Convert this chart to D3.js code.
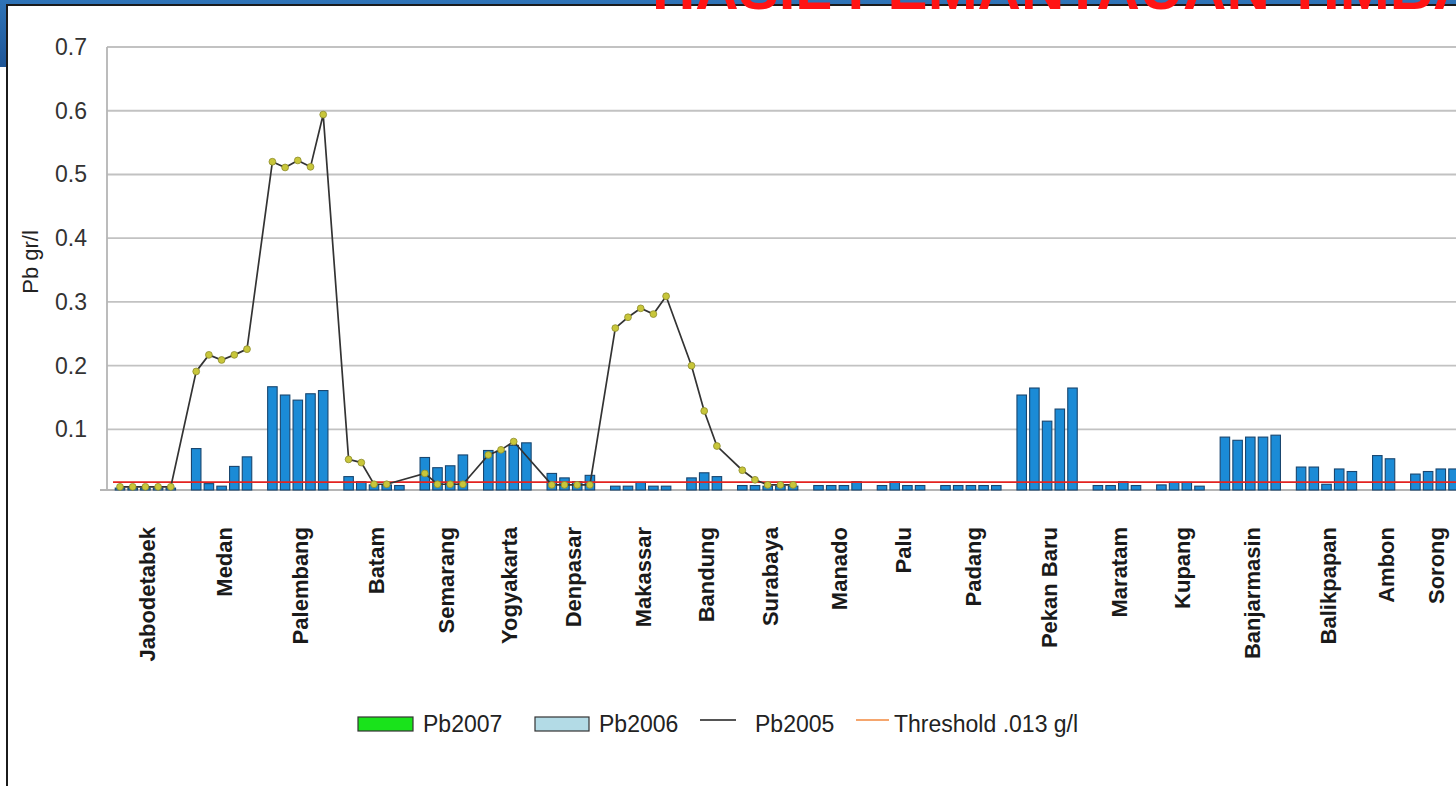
<!DOCTYPE html>
<html>
<head>
<meta charset="utf-8">
<script src="https://cdn.jsdelivr.net/npm/d3@7/dist/d3.min.js"></script>
<style>
  html, body { margin: 0; padding: 0; background: #ffffff; overflow: hidden; }
  svg { display: block; }
</style>
</head>
<body>
<svg id="chart" width="1456" height="786"></svg>
<script>
// ---------------- DATA ----------------
const cities = ["Jabodetabek", "Medan", "Palembang", "Batam", "Semarang", "Yogyakarta",
  "Denpasar", "Makassar", "Bandung", "Surabaya", "Manado", "Palu", "Padang",
  "Pekan Baru", "Maratam", "Kupang", "Banjarmasin", "Balikpapan", "Ambon", "Sorong"];

// Pb2006 samples per city (bars)
const pb2006 = [
  [0.008, 0.008, 0.008, 0.008, 0.008],
  [0.070, 0.015, 0.011, 0.042, 0.057],
  [0.167, 0.154, 0.146, 0.156, 0.161],
  [0.026, 0.018, 0.013, 0.013, 0.012],
  [0.056, 0.040, 0.043, 0.060],
  [0.067, 0.066, 0.075, 0.079],
  [0.031, 0.024, 0.018, 0.028],
  [0.011, 0.011, 0.017, 0.011, 0.011],
  [0.024, 0.032, 0.026],
  [0.012, 0.012, 0.011, 0.011, 0.011],
  [0.012, 0.012, 0.012, 0.018],
  [0.012, 0.018, 0.012, 0.012],
  [0.012, 0.012, 0.012, 0.012, 0.012],
  [0.154, 0.165, 0.113, 0.132, 0.165],
  [0.012, 0.012, 0.018, 0.012],
  [0.013, 0.017, 0.017, 0.011],
  [0.088, 0.083, 0.088, 0.088, 0.091],
  [0.041, 0.041, 0.014, 0.038, 0.034],
  [0.059, 0.054],
  [0.030, 0.034, 0.038, 0.038]
];

// Pb2005 samples per city (line); null = no sample
const pb2005 = [
  [0.010, 0.010, 0.010, 0.010, 0.010],
  [0.191, 0.217, 0.209, 0.217, 0.226],
  [0.520, 0.511, 0.522, 0.512, 0.594],
  [0.053, 0.048, 0.014, 0.014, null],
  [0.031, 0.014, 0.014, 0.014],
  [0.060, 0.068, 0.081, null],
  [0.013, 0.013, 0.013, 0.013],
  [0.259, 0.276, 0.290, 0.281, 0.309],
  [0.200, 0.129, 0.074],
  [0.036, 0.021, 0.013, 0.013, 0.013],
  [], [], [], [], [], [], [], [], [], []
];

const thresholdValue = 0.0175;
const yTicks = [0.1, 0.2, 0.3, 0.4, 0.5, 0.6, 0.7];
const legendItems = ["Pb2007", "Pb2006", "Pb2005", "Threshold .013 g/l"];
const titleText = "HASIL PEMANTAUAN TIMBAL";

// ---------------- BUILD SLOTS ----------------
const slots = [];       // each sample gets a slot, one empty slot between cities
const groupCenters = [];
let idx = 0;
cities.forEach((c, ci) => {
  const n = pb2006[ci].length;
  const start = idx;
  for (let k = 0; k < n; k++) {
    slots.push({ slot: idx, city: c, v2006: pb2006[ci][k],
      v2005: (pb2005[ci][k] === undefined ? null : pb2005[ci][k]) });
    idx++;
  }
  groupCenters.push({ city: c, pos: (start + idx - 1) / 2 });
  idx++; // gap slot
});
const nSlots = idx;

// ---------------- LAYOUT ----------------
const svg = d3.select("#chart");
const W = 1456, H = 786;
const plotLeft = 107, plotTop = 47, plotBottom = 490;
const step = 12.7;
const firstCenter = 120;

const x = d3.scaleLinear().domain([0, 1]).range([firstCenter, firstCenter + step]);
const y = d3.scaleLinear().domain([0.005, 0.7]).range([plotBottom, plotTop]);

// ---------------- FRAME ----------------
const grad = svg.append("defs").append("linearGradient").attr("id", "hdr")
  .attr("x1", 0).attr("y1", 0).attr("x2", 0).attr("y2", 1);
grad.append("stop").attr("offset", "0%").attr("stop-color", "#2f74b8");
grad.append("stop").attr("offset", "100%").attr("stop-color", "#1e5596");
svg.append("rect").attr("x", 0).attr("y", 0).attr("width", W).attr("height", 67).attr("fill", "url(#hdr)");
svg.append("rect").attr("x", 7).attr("y", 5).attr("width", W + 20).attr("height", H + 20)
  .attr("fill", "#ffffff").attr("stroke", "#1b1b1b").attr("stroke-width", 2);

const FONT = "'Liberation Sans', Arial, Helvetica, sans-serif";

// ---------------- GRID & AXES ----------------
svg.append("g").selectAll("line").data(yTicks).join("line")
  .attr("x1", plotLeft).attr("x2", W + 10)
  .attr("y1", d => y(d)).attr("y2", d => y(d))
  .attr("stroke", "#c2c2c2").attr("stroke-width", 1.8);

const yAxis = d3.axisLeft(y).tickValues(yTicks).tickSize(0).tickPadding(20)
  .tickFormat(d3.format(".1f"));
const yg = svg.append("g").attr("transform", `translate(${plotLeft},0)`).call(yAxis);
yg.select(".domain").remove();
yg.selectAll("text").attr("font-family", FONT).attr("font-size", 23).attr("fill", "#333333");

svg.append("line").attr("x1", plotLeft).attr("x2", plotLeft)
  .attr("y1", plotTop).attr("y2", plotBottom).attr("stroke", "#b5b5b5").attr("stroke-width", 1.8);
svg.append("line").attr("x1", plotLeft - 7).attr("x2", W + 10)
  .attr("y1", plotBottom).attr("y2", plotBottom).attr("stroke", "#b5b5b5").attr("stroke-width", 1.8);

svg.append("text")
  .attr("transform", `translate(38,262) rotate(-90)`)
  .attr("text-anchor", "middle")
  .attr("font-family", FONT).attr("font-size", 22).attr("fill", "#222")
  .text("Pb gr/l");

// ---------------- BARS (Pb2006) ----------------
const barW = 9.5;
svg.append("g").selectAll("rect").data(slots).join("rect")
  .attr("x", d => x(d.slot) - barW / 2)
  .attr("y", d => y(d.v2006))
  .attr("width", barW)
  .attr("height", d => plotBottom - y(d.v2006))
  .attr("fill", "#1b8bd6").attr("stroke", "#19466f").attr("stroke-width", 1.1);

// ---------------- THRESHOLD ----------------
svg.append("line")
  .attr("x1", x(-0.55)).attr("x2", x(nSlots - 1.4))
  .attr("y1", y(thresholdValue)).attr("y2", y(thresholdValue))
  .attr("stroke", "#e3231f").attr("stroke-width", 1.8);

// ---------------- LINE (Pb2005) ----------------
const linePts = slots.filter(d => d.v2005 !== null);
const line = d3.line().x(d => x(d.slot)).y(d => y(d.v2005));
svg.append("path").datum(linePts).attr("d", line)
  .attr("fill", "none").attr("stroke", "#333333").attr("stroke-width", 1.7);
svg.append("g").selectAll("circle").data(linePts).join("circle")
  .attr("cx", d => x(d.slot)).attr("cy", d => y(d.v2005)).attr("r", 3.4)
  .attr("fill", "#c8c63a").attr("stroke", "#8d8b2c").attr("stroke-width", 0.8);

// ---------------- CATEGORY LABELS ----------------
svg.append("g").selectAll("text").data(groupCenters).join("text")
  .attr("transform", d => `translate(${x(d.pos) + 2},527) rotate(-90)`)
  .attr("text-anchor", "end").attr("dy", "0.36em")
  .attr("font-family", FONT).attr("font-size", 22).attr("font-weight", "bold")
  .attr("fill", "#1a1a1a")
  .text(d => d.city);

// ---------------- LEGEND ----------------
const lg = svg.append("g").attr("font-family", FONT).attr("font-size", 23).attr("fill", "#222");
lg.append("rect").attr("x", 358).attr("y", 717).attr("width", 55).attr("height", 14)
  .attr("fill", "#19e31b").attr("stroke", "#333").attr("stroke-width", 1.2);
lg.append("text").attr("x", 423).attr("y", 732).text(legendItems[0]);
lg.append("rect").attr("x", 535).attr("y", 717).attr("width", 54).attr("height", 14)
  .attr("fill", "#b3dbe6").attr("stroke", "#333").attr("stroke-width", 1.2);
lg.append("text").attr("x", 599).attr("y", 732).text(legendItems[1]);
lg.append("line").attr("x1", 700).attr("x2", 736).attr("y1", 720).attr("y2", 720)
  .attr("stroke", "#555").attr("stroke-width", 2);
lg.append("text").attr("x", 755).attr("y", 732).text(legendItems[2]);
lg.append("line").attr("x1", 856).attr("x2", 889).attr("y1", 720).attr("y2", 720)
  .attr("stroke", "#f5a66e").attr("stroke-width", 2);
lg.append("text").attr("x", 894).attr("y", 732).text(legendItems[3]);

// ---------------- CROPPED SLIDE TITLE (only its lower edge shows) ----------------
svg.append("text").attr("x", 652).attr("y", 9)
  .attr("font-family", FONT).attr("font-size", 60).attr("font-weight", "bold")
  .attr("fill", "#ff1414").text(titleText);
</script>
</body>
</html>
